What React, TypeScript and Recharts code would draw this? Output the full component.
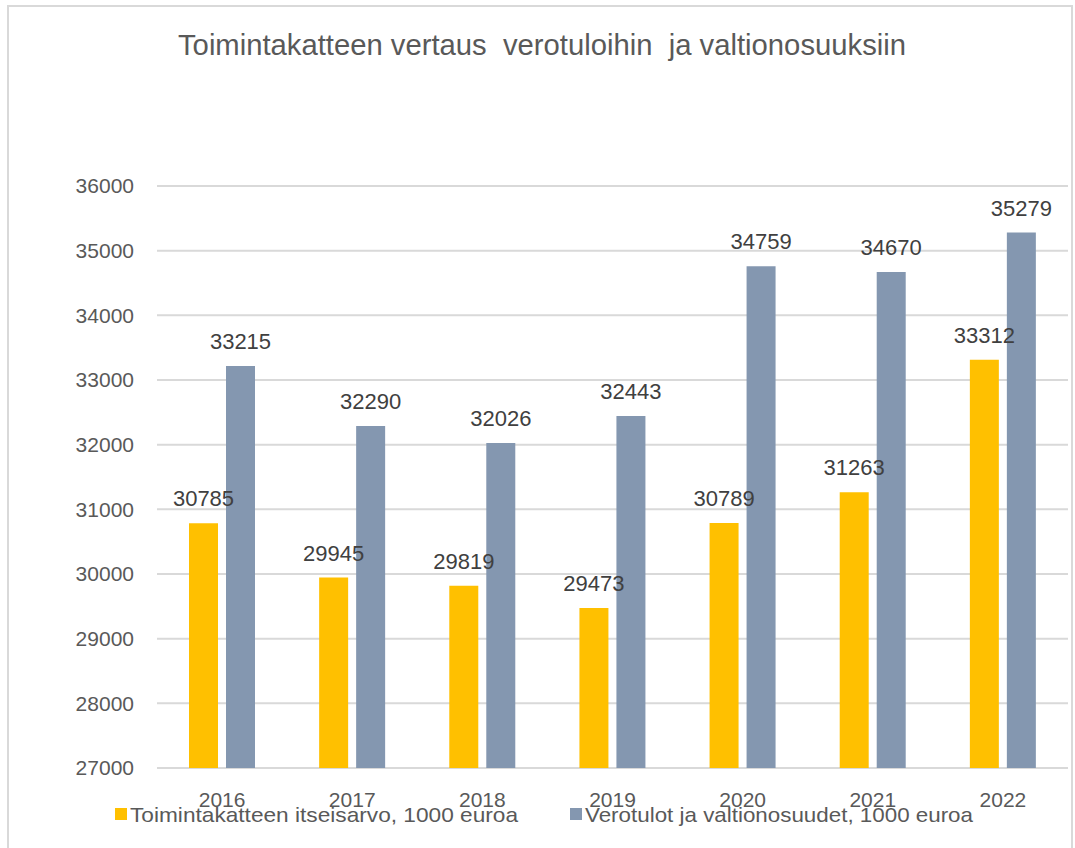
import React from 'react';
import { BarChart, Bar, XAxis, YAxis, CartesianGrid, LabelList, Legend } from 'recharts';

const years = ['2016', '2017', '2018', '2019', '2020', '2021', '2022'];
const toimintakate = [30785, 29945, 29819, 29473, 30789, 31263, 33312];
const verotulot = [33215, 32290, 32026, 32443, 34759, 34670, 35279];
const yTicks = [27000, 28000, 29000, 30000, 31000, 32000, 33000, 34000, 35000, 36000];

const titleText = 'Toimintakatteen vertaus  verotuloihin  ja valtionosuuksiin';
const seriesNames = ['Toimintakatteen itseisarvo, 1000 euroa', 'Verotulot ja valtionosuudet, 1000 euroa'];
const seriesColors = ['#FFC000', '#8497B0'];

const data = years.map((y, i) => ({ year: y, a: toimintakate[i], b: verotulot[i] }));

const FONT = '"Liberation Sans", Arial, sans-serif';

const legendX = [115, 570];

const renderLegend = () => (
  <svg width={1075} height={40} style={{ display: 'block' }}>
    {seriesNames.map((n, i) => (
      <g key={n}>
        <rect x={legendX[i]} y={13} width={12} height={12} fill={seriesColors[i]} />
        <text
          x={legendX[i] + 15}
          y={27}
          fontSize={21}
          fill="#595959"
          fontFamily={FONT}
          textLength={388}
          lengthAdjust="spacingAndGlyphs"
        >
          {n}
        </text>
      </g>
    ))}
  </svg>
);

export default function App() {
  return (
    <div style={{ position: 'absolute', left: 0, top: 0, width: 1075, height: 848, background: '#fff', overflow: 'hidden' }}>
      <div
        style={{
          position: 'absolute',
          left: 7,
          top: 5,
          width: 1066,
          height: 843,
          borderTop: '2px solid #d9d9d9',
          borderLeft: '2px solid #d9d9d9',
          borderRight: '2px solid #d9d9d9',
          boxSizing: 'border-box',
        }}
      />
      <svg width={1075} height={100} style={{ position: 'absolute', left: 0, top: 0 }}>
        <text
          x={542}
          y={55}
          textAnchor="middle"
          fontSize={30}
          fill="#595959"
          fontFamily={FONT}
          textLength={728}
          lengthAdjust="spacingAndGlyphs"
          style={{ whiteSpace: 'pre' }}
        >
          {titleText}
        </text>
      </svg>
      <div style={{ position: 'absolute', left: 0, top: 0 }}>
        <BarChart
          width={1075}
          height={848}
          data={data}
          margin={{ top: 186, right: 7, bottom: 40, left: 0 }}
          barSize={29}
          barGap={8}
        >
          <CartesianGrid horizontal vertical={false} stroke="#d9d9d9" strokeWidth={2} />
          <XAxis
            dataKey="year"
            height={40}
            axisLine={false}
            tickLine={false}
            tickMargin={18}
            tick={{ fontSize: 21, fill: '#595959', fontFamily: FONT }}
          />
          <YAxis
            width={157}
            domain={[27000, 36000]}
            ticks={yTicks}
            allowDataOverflow
            axisLine={false}
            tickLine={false}
            tickMargin={17}
            tick={{ fontSize: 21, fill: '#595959', fontFamily: FONT }}
          />
          <Legend
            layout="horizontal"
            verticalAlign="middle"
            align="center"
            content={renderLegend}
            wrapperStyle={{ top: 795, left: 0, width: 1075, height: 40 }}
          />
          <Bar dataKey="a" name={seriesNames[0]} fill={seriesColors[0]} isAnimationActive={false}>
            <LabelList dataKey="a" position="top" offset={17} fill="#404040" fontSize={22} fontFamily={FONT} />
          </Bar>
          <Bar dataKey="b" name={seriesNames[1]} fill={seriesColors[1]} isAnimationActive={false}>
            <LabelList dataKey="b" position="top" offset={17} fill="#404040" fontSize={22} fontFamily={FONT} />
          </Bar>
        </BarChart>
      </div>
    </div>
  );
}
